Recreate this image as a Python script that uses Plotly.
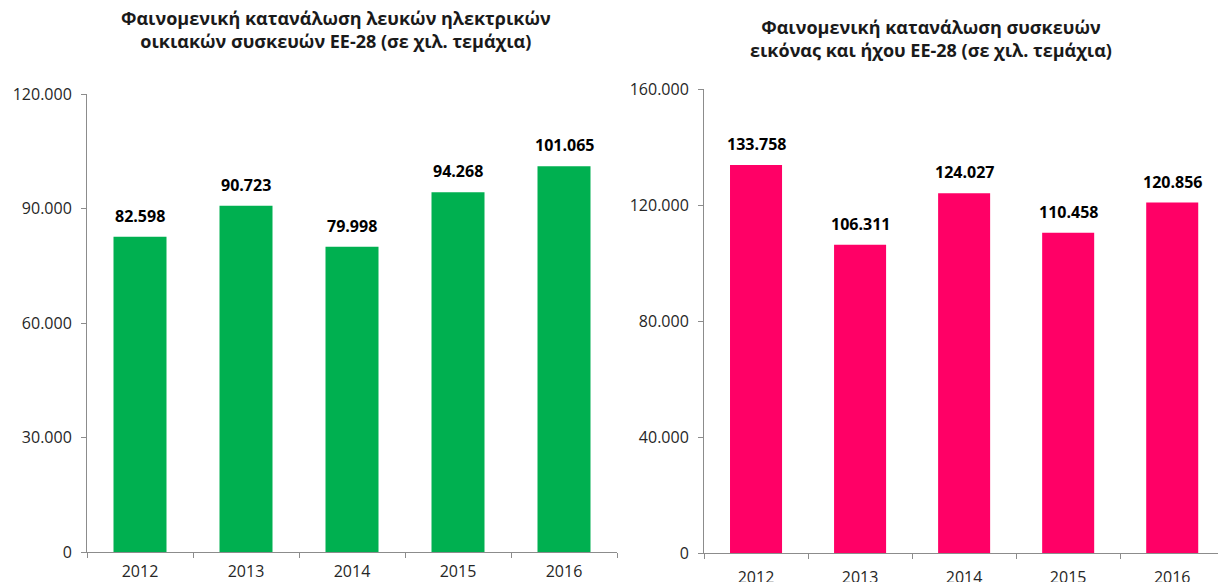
import plotly.graph_objects as go

years = ["2012", "2013", "2014", "2015", "2016"]
white_goods = [82598, 90723, 79998, 94268, 101065]
audio_video = [133758, 106311, 124027, 110458, 120856]

title_left = "Φαινομενική κατανάλωση λευκών ηλεκτρικών<br>οικιακών συσκευών ΕΕ-28 (σε χιλ. τεμάχια)"
title_right = "Φαινομενική κατανάλωση συσκευών<br>εικόνας και ήχου ΕΕ-28 (σε χιλ. τεμάχια)"

FONT = "'Open Sans', 'Noto Sans', sans-serif"
W, H = 1218, 582

fig = go.Figure()

fig.add_trace(go.Bar(x=years, y=white_goods, xaxis="x", yaxis="y",
                     marker=dict(color="#00B050", line=dict(width=0)),
                     showlegend=False, hoverinfo="x+y"))
fig.add_trace(go.Bar(x=years, y=audio_video, xaxis="x2", yaxis="y2",
                     marker=dict(color="#FF0066", line=dict(width=0)),
                     showlegend=False, hoverinfo="x+y"))

# value labels above the bars (category index on the x axis)
labels = []
for xr, yr, vals in [("x", "y", white_goods), ("x2", "y2", audio_video)]:
    for i, v in enumerate(vals):
        labels.append(dict(x=i, y=v, xref=xr, yref=yr,
                           text="<b>" + f"{v:,}".replace(",", ".") + "</b>",
                           showarrow=False, yanchor="bottom", yshift=8,
                           font=dict(size=16, color="#000000", family=FONT)))

axis_common = dict(showgrid=False, zeroline=False, showline=True, automargin=False,
                   linecolor="#8C8C8C", linewidth=1,
                   ticks="outside", ticklen=5, tickcolor="#8C8C8C",
                   tickfont=dict(size=16, color="#262626", family=FONT))

fig.update_layout(
    width=W, height=H,
    margin=dict(l=0, r=0, t=0, b=0, autoexpand=False),
    plot_bgcolor="white", paper_bgcolor="white",
    separators=",.",
    bargap=0.5,
    font=dict(family=FONT),
    xaxis=dict(domain=[87 / W, 617 / W], anchor="y", type="category",
               range=[-0.5, 4.5], tickson="boundaries", ticklabelstandoff=5,
               **axis_common),
    yaxis=dict(domain=[1 - 552 / H, 1 - 94 / H], anchor="x",
               range=[0, 120000], dtick=30000, tickformat=",d", ticklabelstandoff=6,
               **axis_common),
    xaxis2=dict(domain=[704 / W, 1.0], anchor="y2", type="category",
                range=[-0.5, 4.44], tickson="boundaries", ticklabelstandoff=10,
                **axis_common),
    yaxis2=dict(domain=[1 - 553 / H, 1 - 89 / H], anchor="x2",
                range=[0, 160000], dtick=40000, tickformat=",d", ticklabelstandoff=6,
                **axis_common),
    annotations=labels + [
        dict(text="<b>" + title_left + "</b>", x=336 / W, y=1 - 4 / H,
             xref="paper", yref="paper", xanchor="center", yanchor="top",
             showarrow=False, align="center",
             font=dict(size=18, color="#1A1A1A", family=FONT)),
        dict(text="<b>" + title_right + "</b>", x=931 / W, y=1 - 13 / H,
             xref="paper", yref="paper", xanchor="center", yanchor="top",
             showarrow=False, align="center",
             font=dict(size=18, color="#1A1A1A", family=FONT)),
    ],
)

fig.write_html("out.html", config={"displayModeBar": False},
               post_script="document.body.style.margin='0';")
